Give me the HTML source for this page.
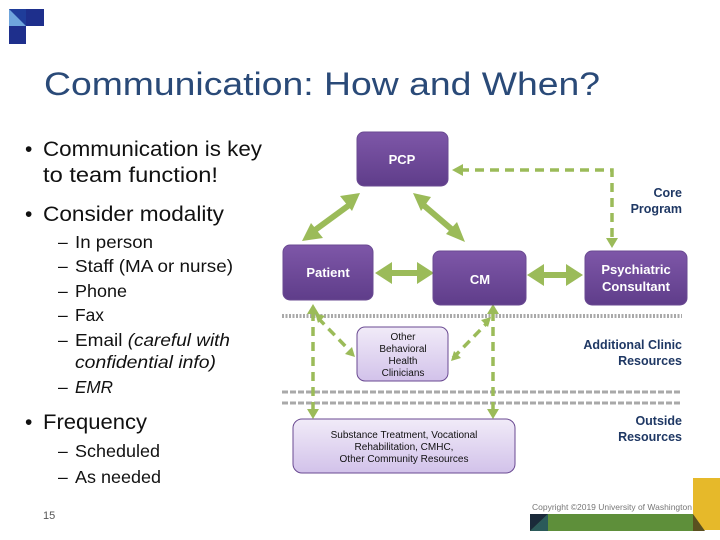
<!DOCTYPE html>
<html><head><meta charset="utf-8"><style>
body{margin:0;width:720px;height:540px;background:#fff;overflow:hidden;font-family:"Liberation Sans",sans-serif;}
svg{display:block}
</style></head><body>
<svg width="720" height="540" viewBox="0 0 720 540" xmlns="http://www.w3.org/2000/svg">
<defs>
<linearGradient id="pg" x1="0" y1="0" x2="0" y2="1"><stop offset="0" stop-color="#7e57a8"/><stop offset="1" stop-color="#5f3d8a"/></linearGradient>
<linearGradient id="lg" x1="0" y1="0" x2="0" y2="1"><stop offset="0" stop-color="#f1ebf8"/><stop offset="1" stop-color="#d2c2ea"/></linearGradient>
</defs>
<rect x="9" y="9" width="17" height="17" fill="#6fa5dc"/>
<polygon points="9,9 26,9 26,26" fill="#1f3d9a"/>
<rect x="26" y="9" width="18" height="17" fill="#1e2f8c"/>
<rect x="9" y="26" width="17" height="18" fill="#1e2f8c"/>
<text x="44" y="95" font-size="32" fill="#2a4a78" textLength="556" lengthAdjust="spacingAndGlyphs">Communication: How and When?</text>
<g font-size="21" fill="#111" lengthAdjust="spacingAndGlyphs">
<text x="25" y="156">•</text><text x="43" y="156" textLength="219" lengthAdjust="spacingAndGlyphs">Communication is key</text>
<text x="43" y="182" textLength="175" lengthAdjust="spacingAndGlyphs">to team function!</text>
<text x="25" y="221">•</text><text x="43" y="221" textLength="181" lengthAdjust="spacingAndGlyphs">Consider modality</text>
<text x="25" y="429">•</text><text x="43" y="429" textLength="104" lengthAdjust="spacingAndGlyphs">Frequency</text>
</g>
<g font-size="17.5" fill="#111">
<text x="58" y="248">–</text><text x="75" y="248" textLength="78" lengthAdjust="spacingAndGlyphs">In person</text>
<text x="58" y="272">–</text><text x="75" y="272" textLength="158" lengthAdjust="spacingAndGlyphs">Staff (MA or nurse)</text>
<text x="58" y="297">–</text><text x="75" y="297" textLength="52" lengthAdjust="spacingAndGlyphs">Phone</text>
<text x="58" y="321">–</text><text x="75" y="321" textLength="29" lengthAdjust="spacingAndGlyphs">Fax</text>
<text x="58" y="346">–</text><text x="75" y="346" textLength="155" lengthAdjust="spacingAndGlyphs">Email <tspan font-style="italic">(careful with</tspan></text>
<text x="75" y="368" font-style="italic" textLength="141" lengthAdjust="spacingAndGlyphs">confidential info)</text>
<text x="58" y="393">–</text><text x="75" y="393" font-style="italic" textLength="38" lengthAdjust="spacingAndGlyphs">EMR</text>
<text x="58" y="457">–</text><text x="75" y="457" textLength="85" lengthAdjust="spacingAndGlyphs">Scheduled</text>
<text x="58" y="483">–</text><text x="75" y="483" textLength="86" lengthAdjust="spacingAndGlyphs">As needed</text>
</g>
<text x="43" y="519" font-size="11" fill="#555">15</text>
<line x1="282" y1="316" x2="682" y2="316" stroke="#a9a9a9" stroke-width="4" stroke-dasharray="2,1.5"/>
<line x1="282" y1="392" x2="682" y2="392" stroke="#a9a9a9" stroke-width="3" stroke-dasharray="6,2"/>
<line x1="282" y1="403" x2="682" y2="403" stroke="#a9a9a9" stroke-width="3" stroke-dasharray="6,2"/>
<g stroke="#9bbb59" stroke-width="3.5" fill="none" stroke-dasharray="9,6">
<polyline points="460,170 612,170 612,240"/>
<line x1="313" y1="312" x2="313" y2="415"/>
<line x1="493" y1="312" x2="493" y2="415"/>
<line x1="318" y1="318" x2="352" y2="353"/>
<line x1="453" y1="358" x2="488" y2="322"/>
</g>
<g fill="#9bbb59">
<polygon points="452,170 463,164 463,176"/>
<polygon points="612,248 606,238 618,238"/>
<polygon points="313,304 307,314 319,314"/><polygon points="313,419 307,409 319,409"/>
<polygon points="493,304 487,314 499,314"/><polygon points="493,419 487,409 499,409"/>
<polygon points="315,313 325,316 318,323"/><polygon points="355,357 345,354 352,347"/>
<polygon points="491,317 488,327 481,320"/><polygon points="451,361 454,351 461,358"/>
</g>
<g stroke="#9bbb59" stroke-width="6" fill="none">
<line x1="352" y1="203" x2="311" y2="233"/>
<line x1="421" y1="203" x2="456" y2="233"/>
<line x1="390" y1="273" x2="420" y2="273"/>
<line x1="540" y1="275" x2="570" y2="275"/>
</g>
<g fill="#9bbb59">
<polygon points="360,193 340,196 352,211"/><polygon points="302,241 323,238 311,223"/>
<polygon points="413,193 421,211 431,197"/><polygon points="465,242 446,234 457,222"/>
<polygon points="375,273 392,262 392,284"/><polygon points="434,273 417,262 417,284"/>
<polygon points="527,275 544,264 544,286"/><polygon points="583,275 566,264 566,286"/>
</g>
<g stroke="#6a4a92" stroke-width="1">
<rect x="357" y="132" width="91" height="54" rx="7" fill="url(#pg)"/>
<rect x="283" y="245" width="90" height="55" rx="7" fill="url(#pg)"/>
<rect x="433" y="251" width="93" height="54" rx="7" fill="url(#pg)"/>
<rect x="585" y="251" width="102" height="54" rx="7" fill="url(#pg)"/>
<rect x="357" y="327" width="91" height="54" rx="8" fill="url(#lg)"/>
<rect x="293" y="419" width="222" height="54" rx="9" fill="url(#lg)"/>
</g>
<g font-size="13" fill="#fff" text-anchor="middle" font-weight="bold">
<text x="402" y="164">PCP</text>
<text x="328" y="277">Patient</text>
<text x="480" y="284">CM</text>
<text x="636" y="274">Psychiatric</text>
<text x="636" y="291">Consultant</text>
</g>
<g font-size="10" fill="#111" text-anchor="middle">
<text x="403" y="340">Other</text>
<text x="403" y="352">Behavioral</text>
<text x="403" y="364">Health</text>
<text x="403" y="376">Clinicians</text>
<text x="404" y="438">Substance Treatment, Vocational</text>
<text x="404" y="450">Rehabilitation, CMHC,</text>
<text x="404" y="462">Other Community Resources</text>
</g>
<g font-size="12.5" fill="#1f3864" text-anchor="end" font-weight="bold">
<text x="682" y="197">Core</text>
<text x="682" y="213">Program</text>
<text x="682" y="349">Additional Clinic</text>
<text x="682" y="365">Resources</text>
<text x="682" y="425">Outside</text>
<text x="682" y="441">Resources</text>
</g>
<text x="532" y="510" font-size="8.5" fill="#777">Copyright ©2019  University of Washington</text>
<rect x="530" y="514" width="165" height="17" fill="#5e8f3a"/>
<polygon points="530,514 548,514 530,531" fill="#1a2a3a"/>
<polygon points="548,514 530,531 548,531" fill="#2b5a5a"/>
<rect x="693" y="478" width="27" height="52" fill="#e6b92a"/>
<polygon points="693,514 705,531 693,531" fill="#5a5020"/>
</svg>
</body></html>
